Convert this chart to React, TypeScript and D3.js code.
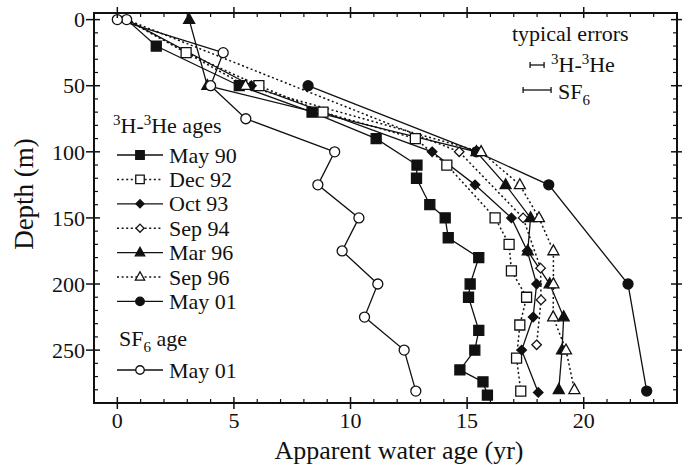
import React from "react";
import * as d3 from "d3";

// ---- data: [apparent age (yr), depth (m)] ----
const SURFACE: [number, number] = [0.4, 0];

const may90: [number, number][] = [
  [1.67, 20], [5.23, 50], [8.35, 70], [11.1, 90], [12.85, 110], [12.83, 120],
  [13.4, 140], [14.06, 150], [14.19, 165], [15.5, 180], [15.13, 200], [15.06, 210],
  [15.5, 235], [15.33, 250], [14.69, 265], [15.68, 274], [15.87, 284],
];
const dec92: [number, number][] = [
  [2.95, 25], [6.07, 50], [8.82, 70], [12.78, 90], [14.13, 110], [16.2, 150],
  [16.8, 170], [16.9, 190], [17.55, 210], [17.26, 231], [17.12, 256], [17.3, 281],
];
const oct93: [number, number][] = [
  [5.75, 50], [13.5, 100], [15.34, 125], [16.9, 150], [17.58, 175], [17.98, 200],
  [17.83, 225], [17.34, 250], [18.05, 282],
];
const sep94: [number, number][] = [
  [14.66, 100], [17.4, 150], [18.15, 188], [18.17, 212], [17.98, 246],
];
const mar96: [number, number][] = [
  [3.08, 0], [3.86, 50], [15.4, 100], [16.65, 125], [17.72, 150], [17.6, 175],
  [18.54, 200], [19.14, 225], [19.07, 250], [18.93, 280],
];
const sep96: [number, number][] = [
  [5.5, 50], [15.6, 100], [17.26, 125], [18.08, 150], [18.7, 175], [18.7, 200],
  [18.69, 225], [19.24, 250], [19.6, 280],
];
const may01: [number, number][] = [
  [8.18, 50], [15.4, 100], [18.5, 125], [21.9, 200], [22.7, 281],
];
const sf6May01: [number, number][] = [
  [0, 0], [4.54, 25], [4.0, 50], [5.51, 75], [9.32, 100], [8.6, 125], [10.36, 150],
  [9.64, 175], [11.17, 200], [10.6, 225], [12.3, 250], [12.8, 281],
];

const seriesNames = ["May 90", "Dec 92", "Oct 93", "Sep 94", "Mar 96", "Sep 96", "May 01"];
const xTicks = [0, 5, 10, 15, 20];
const yTicks = [0, 50, 100, 150, 200, 250];
const errorHalfWidths = { h3he: 0.3, sf6: 0.6 }; // yr
const errorCenter = 18.0;

type Marker = "square" | "diamond" | "triangle" | "circle";
interface Series {
  name: string;
  data: [number, number][];
  marker: Marker;
  filled: boolean;
  dotted: boolean;
  surface: boolean;
}

const series: Series[] = [
  { name: seriesNames[0], data: may90, marker: "square", filled: true, dotted: false, surface: true },
  { name: seriesNames[1], data: dec92, marker: "square", filled: false, dotted: true, surface: true },
  { name: seriesNames[2], data: oct93, marker: "diamond", filled: true, dotted: false, surface: true },
  { name: seriesNames[3], data: sep94, marker: "diamond", filled: false, dotted: true, surface: true },
  { name: seriesNames[4], data: mar96, marker: "triangle", filled: true, dotted: false, surface: false },
  { name: seriesNames[5], data: sep96, marker: "triangle", filled: false, dotted: true, surface: true },
  { name: seriesNames[6], data: may01, marker: "circle", filled: true, dotted: false, surface: false },
];
const sfSeries: Series = { name: "May 01", data: sf6May01, marker: "circle", filled: false, dotted: false, surface: false };

// ---- layout ----
const W = 691, H = 467;
const L = 94, R = 677, T = 13, B = 403;
const FONT = "'Liberation Serif', 'Times New Roman', serif";

const x = d3.scaleLinear().domain([-1, 24]).range([L, R]);
const y = d3.scaleLinear().domain([-5, 290]).range([T, B]);

function markerPath(m: Marker, s: number): string {
  const h = s / 2;
  switch (m) {
    case "square":
      return `M${-h},${-h}H${h}V${h}H${-h}Z`;
    case "diamond":
      return `M0,${-h}L${h},0L0,${h}L${-h},0Z`;
    case "triangle": {
      const th = s * 0.9;
      return `M0,${-th * 0.62}L${h},${th * 0.38}L${-h},${th * 0.38}Z`;
    }
    case "circle":
    default:
      return `M${h},0A${h},${h} 0 1,1 ${-h},0A${h},${h} 0 1,1 ${h},0Z`;
  }
}

function markerSize(m: Marker, legend = false): number {
  const base = m === "square" ? 10 : m === "diamond" ? 9.5 : m === "triangle" ? 11 : 10;
  return legend ? base * 0.85 : base;
}

function MarkerShape({ m, filled, cx, cy, legend }: { m: Marker; filled: boolean; cx: number; cy: number; legend?: boolean }) {
  return (
    <path
      d={markerPath(m, markerSize(m, legend))}
      transform={`translate(${cx},${cy})`}
      fill={filled ? "#111" : "#fff"}
      stroke="#111"
      strokeWidth={1.3}
    />
  );
}

const line = d3
  .line<[number, number]>()
  .x((d) => x(d[0]))
  .y((d) => y(d[1]));

export default function App() {
  const xMinor = d3.range(0, 24).filter((v) => v % 5 !== 0);
  const yMinor = d3.range(10, 290, 10).filter((v) => v % 50 !== 0);

  const legendY0 = 155;
  const legendDy = 24.4;
  const legX0 = 117, legX1 = 163, legM = 140, legText = 169;

  // draw order for markers: May 01 first so overlapping triangles stay on top; SF6 last
  const markerOrder = [series[6], ...series.slice(0, 6), sfSeries];

  return (
    <svg
      width={W}
      height={H}
      style={{ position: "absolute", left: 0, top: 0, display: "block", background: "#fff" }}
      fontFamily={FONT}
    >
      <rect x={0} y={0} width={W} height={H} fill="#fff" />

      {/* data lines */}
      {[...series, sfSeries].map((s) => {
        const pts = s.surface ? [SURFACE, ...s.data] : s.data;
        return (
          <path
            key={"l" + s.name + s.marker}
            d={line(pts) || ""}
            fill="none"
            stroke="#111"
            strokeWidth={s.dotted ? 1.5 : 1.3}
            strokeDasharray={s.dotted ? "2,2.6" : undefined}
          />
        );
      })}

      {/* surface point */}
      <MarkerShape m="circle" filled={false} cx={x(SURFACE[0])} cy={y(SURFACE[1])} />

      {/* markers */}
      {markerOrder.map((s) =>
        s.data.map((d, i) => (
          <MarkerShape key={s.name + s.marker + i} m={s.marker} filled={s.filled} cx={x(d[0])} cy={y(d[1])} />
        ))
      )}

      {/* frame */}
      <rect x={L} y={T} width={R - L} height={B - T} fill="none" stroke="#111" strokeWidth={2} />

      {/* x ticks */}
      {xTicks.map((v) => (
        <g key={"xt" + v}>
          <line x1={x(v)} x2={x(v)} y1={B - 6} y2={B + 6} stroke="#111" strokeWidth={1.5} />
          <line x1={x(v)} x2={x(v)} y1={T - 6} y2={T + 5} stroke="#111" strokeWidth={1.5} />
          <text x={x(v)} y={428} textAnchor="middle" fontSize={22} fill="#111">
            {v}
          </text>
        </g>
      ))}
      {xMinor.map((v) => (
        <g key={"xm" + v}>
          <line x1={x(v)} x2={x(v)} y1={B - 4} y2={B} stroke="#111" strokeWidth={1.2} />
          <line x1={x(v)} x2={x(v)} y1={T} y2={T + 4} stroke="#111" strokeWidth={1.2} />
        </g>
      ))}

      {/* y ticks */}
      {yTicks.map((v) => (
        <g key={"yt" + v}>
          <line x1={L - 8} x2={L + 6} y1={y(v)} y2={y(v)} stroke="#111" strokeWidth={1.5} />
          <line x1={R - 6} x2={R + 5} y1={y(v)} y2={y(v)} stroke="#111" strokeWidth={1.5} />
          <text x={85} y={y(v)} dy="0.35em" textAnchor="end" fontSize={22} fill="#111">
            {v}
          </text>
        </g>
      ))}
      {yMinor.map((v) => (
        <g key={"ym" + v}>
          <line x1={L} x2={L + 4} y1={y(v)} y2={y(v)} stroke="#111" strokeWidth={1.2} />
          <line x1={R - 4} x2={R} y1={y(v)} y2={y(v)} stroke="#111" strokeWidth={1.2} />
        </g>
      ))}

      {/* axis titles */}
      <text x={399} y={459} textAnchor="middle" fontSize={26} fill="#111">
        Apparent water age (yr)
      </text>
      <text transform="translate(33,194) rotate(-90)" textAnchor="middle" fontSize={27} fill="#111">
        Depth (m)
      </text>

      {/* legend */}
      <text x={113} y={133} fontSize={22} fill="#111">
        <tspan fontSize={15} dy={-8}>3</tspan>
        <tspan dy={8}>H-</tspan>
        <tspan fontSize={15} dy={-8}>3</tspan>
        <tspan dy={8}>He ages</tspan>
      </text>
      {series.map((s, i) => {
        const cy = legendY0 + i * legendDy;
        return (
          <g key={"lg" + s.name}>
            <line
              x1={legX0}
              x2={legX1}
              y1={cy}
              y2={cy}
              stroke="#111"
              strokeWidth={s.dotted ? 1.5 : 1.3}
              strokeDasharray={s.dotted ? "2,2.6" : undefined}
            />
            <MarkerShape m={s.marker} filled={s.filled} cx={legM} cy={cy} legend />
            <text x={legText} y={cy + 7.5} fontSize={22} fill="#111">
              {s.name}
            </text>
          </g>
        );
      })}
      <text x={119} y={346} fontSize={22} fill="#111">
        <tspan>SF</tspan>
        <tspan fontSize={15} dy={6}>6</tspan>
        <tspan dy={-6}> age</tspan>
      </text>
      <g>
        <line x1={legX0} x2={legX1} y1={370} y2={370} stroke="#111" strokeWidth={1.3} />
        <MarkerShape m={sfSeries.marker} filled={false} cx={legM} cy={370} legend />
        <text x={legText} y={377.5} fontSize={22} fill="#111">
          {sfSeries.name}
        </text>
      </g>

      {/* typical errors */}
      <text x={512} y={41} fontSize={22} fill="#111">typical errors</text>
      {[
        { key: "h3he", hw: errorHalfWidths.h3he, cy: 65 },
        { key: "sf6", hw: errorHalfWidths.sf6, cy: 90 },
      ].map((e) => {
        const x1 = x(errorCenter - e.hw), x2 = x(errorCenter + e.hw);
        return (
          <g key={e.key} stroke="#111" strokeWidth={1.3}>
            <line x1={x1} x2={x2} y1={e.cy} y2={e.cy} />
            <line x1={x1} x2={x1} y1={e.cy - 3} y2={e.cy + 3} />
            <line x1={x2} x2={x2} y1={e.cy - 3} y2={e.cy + 3} />
          </g>
        );
      })}
      <text x={551} y={72} fontSize={22} fill="#111">
        <tspan fontSize={15} dy={-8}>3</tspan>
        <tspan dy={8}>H-</tspan>
        <tspan fontSize={15} dy={-8}>3</tspan>
        <tspan dy={8}>He</tspan>
      </text>
      <text x={558} y={99} fontSize={22} fill="#111">
        <tspan>SF</tspan>
        <tspan fontSize={15} dy={6}>6</tspan>
      </text>
    </svg>
  );
}
